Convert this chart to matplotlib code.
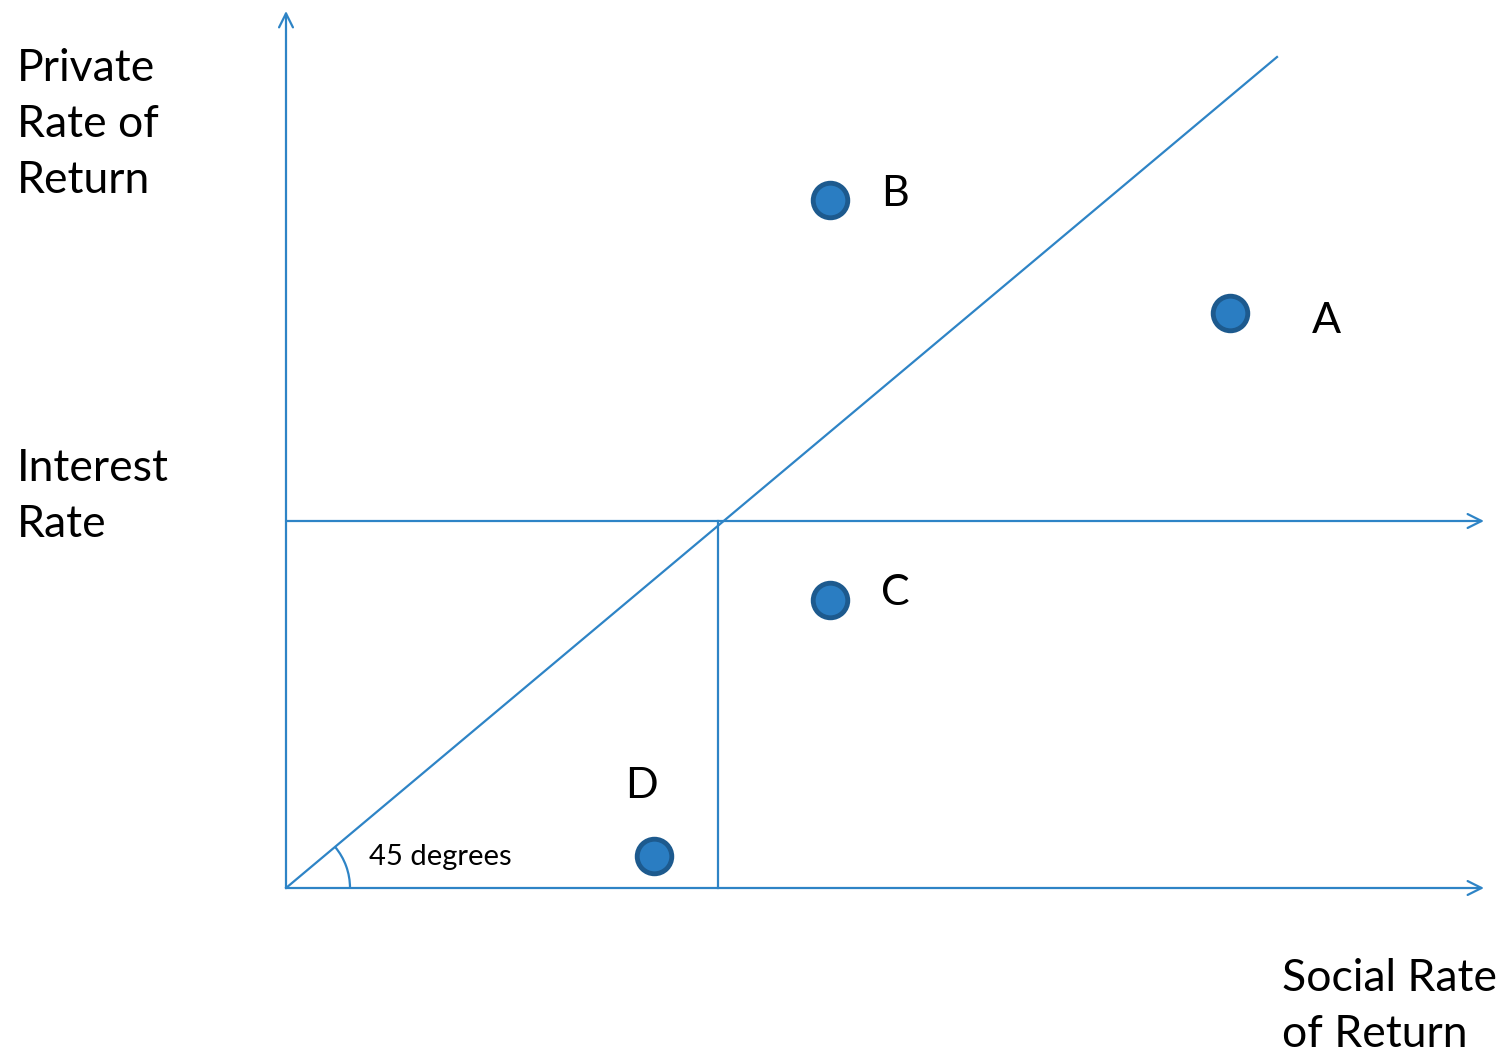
import numpy as np
from matplotlib import pyplot as plt
from matplotlib.patches import Arc

# projects: social rate (x) vs private rate (y), origin at the axes corner
names = ["A", "B", "C", "D"]
social = [944, 544, 544, 368]
private = [575, 688, 288, 32]
interest_rate = 367
cutoff_social = 432
diag_end = (991, 831)

blue = "#2E84C6"
dot_face = "#2A7DC2"
dot_edge = "#1D5A8E"

plt.rcParams['font.family'] = ['Lato', 'DejaVu Sans']

fig = plt.figure(figsize=(15, 10.59), dpi=100)
ax = fig.add_axes([0, 0, 1, 1])
ax.set_xlim(-286, 1214)
ax.set_ylim(-171, 888)
ax.axis("off")

arrow = dict(arrowstyle="->,head_length=1.0,head_width=0.5", color=blue, lw=1.6,
             shrinkA=0, shrinkB=0)
# axes
ax.annotate("", xy=(0, 877), xytext=(0, 0), arrowprops=arrow)
ax.annotate("", xy=(1198, 0), xytext=(0, 0), arrowprops=arrow)
ax.annotate("", xy=(1198, interest_rate), xytext=(0, interest_rate), arrowprops=arrow)

# 45 degree line and the drop line under the interest rate
ax.plot([0, diag_end[0]], [0, diag_end[1]], color=blue, lw=1.6)
ax.plot([cutoff_social, cutoff_social], [0, interest_rate], color=blue, lw=1.6)

ang = np.degrees(np.arctan2(diag_end[1], diag_end[0]))
ax.add_patch(Arc((0, 0), 128, 128, theta1=0, theta2=ang, color=blue, lw=1.6))
ax.text(83, 23, "45 degrees", fontsize=21, va="baseline")

ax.scatter(social, private, s=620, c=dot_face, edgecolors=dot_edge, linewidths=3.5, zorder=3)
offsets = {"A": (82, -8), "B": (51, 6), "C": (51, 7), "D": (-29, 70)}
for n, xs, ys in zip(names, social, private):
    dx, dy = offsets[n]
    ax.text(xs + dx, ys + dy, n, fontsize=31, va="center", ha="left")

lab = dict(fontsize=32, va="top", ha="left", linespacing=1.45)
ax.text(-269, 840, "Private\nRate of\nReturn", **lab)
ax.text(-269, 440, "Interest\nRate", **lab)
ax.text(996, -70, "Social Rate\nof Return", **lab)

fig.savefig("out.png")
